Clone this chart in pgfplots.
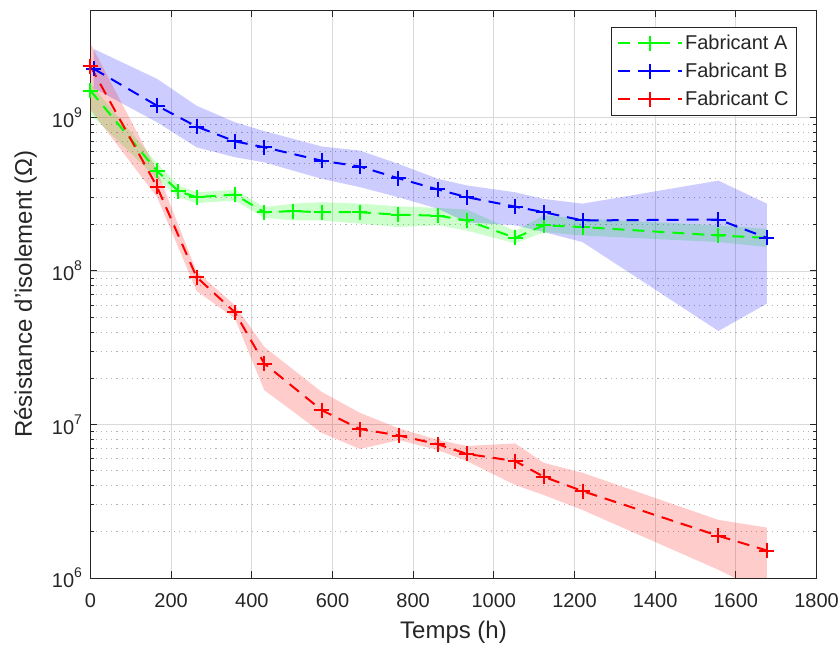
\documentclass[border=0pt]{standalone}
\usepackage{fontspec}
\setmainfont{Liberation Sans}
\usepackage{pgfplots}
\pgfplotsset{compat=1.18}
\definecolor{axc}{rgb}{0.15,0.15,0.15}
\definecolor{mgreen}{rgb}{0,1,0}
\definecolor{mblue}{rgb}{0,0,1}
\definecolor{mred}{rgb}{1,0,0}
\newcommand{\tp}[1]{10\raisebox{0.5em}{\fontsize{14}{14}\selectfont #1}}
\begin{document}
\begin{tikzpicture}
\useasboundingbox (-90.5pt,-71pt) rectangle (749.5pt,578pt);
\begin{axis}[
  at={(0pt,0pt)}, anchor=south west,
  scale only axis, width=726pt, height=568pt,
  xmin=0, xmax=1800, ymode=log, ymin=1e6, ymax=5e9,
  xtick={0,200,...,1800},
  ytick={1e6,1e7,1e8,1e9},
  yticklabels={\tp{6},\tp{7},\tp{8},\tp{9}},
  /pgf/number format/assume math mode=true,
  /pgf/number format/1000 sep={},
  tick label style={font=\fontsize{20}{24}\selectfont, text=axc},
  xticklabel style={yshift=-12pt},
  yticklabel style={xshift=-5pt},
  xlabel={Temps (h)}, ylabel={Résistance d'isolement (Ω)},
  every axis x label/.style={at={([yshift=-54pt]axis description cs:0.5,0)}, anchor=center, font=\fontsize{24}{28}\selectfont, text=axc},
  every axis y label/.style={at={([xshift=-65pt]axis description cs:0,0.5)}, anchor=center, rotate=90, font=\fontsize{24}{28}\selectfont, text=axc},
  axis line style={axc, line width=0.8pt},
  every tick/.style={axc, line width=0.8pt},
  major tick length=7pt, minor tick length=3.5pt,
  xmajorgrids, ymajorgrids, yminorgrids,
  major grid style={black!15, line width=0.7pt},
  minor grid style={black!30, dash pattern=on 1.2pt off 4pt, line width=0.7pt},
  legend style={at={(0.973,0.970)}, anchor=north east, draw=axc, line width=0.8pt,
    font=\fontsize{20}{24}\selectfont, text=axc, row sep=8pt, inner xsep=6pt, inner ysep=6pt},
  legend cell align=left,
  legend image code/.code={\draw[mark repeat=2,mark phase=2,#1] plot coordinates {(0pt,0pt) (32pt,0pt) (64pt,0pt)};},
]
% bands
\addplot[fill=mgreen, fill opacity=0.2, draw=none, forget plot] coordinates {
(0,1.66e9) (165,5.01e8) (218,3.60e8) (263,3.25e8) (358,3.37e8) (431,2.60e8) (503,2.74e8) (573,2.80e8) (668,2.74e8) (763,2.63e8) (861,2.57e8) (933,2.51e8) (1053,1.82e8) (1124,2.30e8) (1220,2.19e8) (1557,1.98e8) (1677,1.88e8)
(1677,1.43e8) (1557,1.54e8) (1220,1.70e8) (1124,1.79e8) (1053,1.51e8) (933,1.83e8) (861,1.98e8) (763,1.93e8) (668,2.03e8) (573,2.13e8) (503,2.13e8) (431,2.22e8) (358,2.87e8) (263,2.76e8) (218,3.02e8) (165,3.98e8) (0,1.047e9)
} -- cycle;
\addplot[fill=mblue, fill opacity=0.2, draw=none, forget plot] coordinates {
(8,2.79e9) (165,1.78e9) (263,1.19e9) (358,9.29e8) (431,8.13e8) (573,6.46e8) (668,6.07e8) (763,4.98e8) (861,3.98e8) (933,3.60e8) (1053,3.25e8) (1124,2.94e8) (1220,2.74e8) (1557,3.87e8) (1677,2.74e8)
(1677,6.12e7) (1557,4.06e7) (1220,1.54e8) (1124,1.79e8) (1053,1.98e8) (933,2.07e8) (861,2.54e8) (763,3.02e8) (668,3.51e8) (573,3.98e8) (431,5.09e8) (358,5.50e8) (263,6.38e8) (165,9.29e8) (8,1.55e9)
} -- cycle;
\addplot[fill=mred, fill opacity=0.2, draw=none, forget plot] coordinates {
(0,3.02e9) (165,4.50e8) (263,9.89e7) (358,5.97e7) (431,3.20e7) (573,1.63e7) (668,1.19e7) (765,9.42e6) (861,7.94e6) (933,7.24e6) (1053,7.52e6) (1124,5.62e6) (1220,4.84e6) (1557,2.39e6) (1677,2.13e6)
(1677,7.9e5) (1557,1.13e6) (1220,2.77e6) (1124,3.47e6) (1053,4.03e6) (933,5.78e6) (861,6.81e6) (765,7.91e6) (668,6.92e6) (573,8.83e6) (431,1.67e7) (358,4.90e7) (263,7.41e7) (165,3.02e8) (0,1.12e9)
} -- cycle;
% lines
\addplot[color=mgreen, line width=2pt, dash pattern=on 12pt off 8pt, mark=+, mark size=7.5pt, mark options={solid, line width=2pt}] coordinates {
(0,1.49e9) (165,4.48e8) (218,3.30e8) (263,3.02e8) (358,3.14e8) (431,2.41e8) (503,2.45e8) (573,2.41e8) (668,2.41e8) (763,2.32e8) (861,2.29e8) (933,2.13e8) (1053,1.64e8) (1124,1.98e8) (1220,1.93e8) (1557,1.70e8) (1677,1.64e8)
};
\addlegendentry{Fabricant A}
\addplot[color=mblue, line width=2pt, dash pattern=on 12pt off 8pt, mark=+, mark size=7.5pt, mark options={solid, line width=2pt}] coordinates {
(8,2.07e9) (165,1.19e9) (263,8.71e8) (358,6.98e8) (431,6.38e8) (573,5.22e8) (668,4.78e8) (763,4.01e8) (861,3.39e8) (933,3.02e8) (1053,2.62e8) (1124,2.41e8) (1220,2.13e8) (1557,2.16e8) (1677,1.64e8)
};
\addlegendentry{Fabricant B}
\addplot[color=mred, line width=2pt, dash pattern=on 12pt off 8pt, mark=+, mark size=7.5pt, mark options={solid, line width=2pt}] coordinates {
(0,2.15e9) (165,3.53e8) (263,9.12e7) (358,5.37e7) (431,2.49e7) (573,1.24e7) (668,9.33e6) (765,8.47e6) (861,7.43e6) (933,6.43e6) (1053,5.77e6) (1124,4.56e6) (1220,3.68e6) (1557,1.88e6) (1677,1.51e6)
};
\addlegendentry{Fabricant C}
\end{axis}
\end{tikzpicture}
\end{document}
